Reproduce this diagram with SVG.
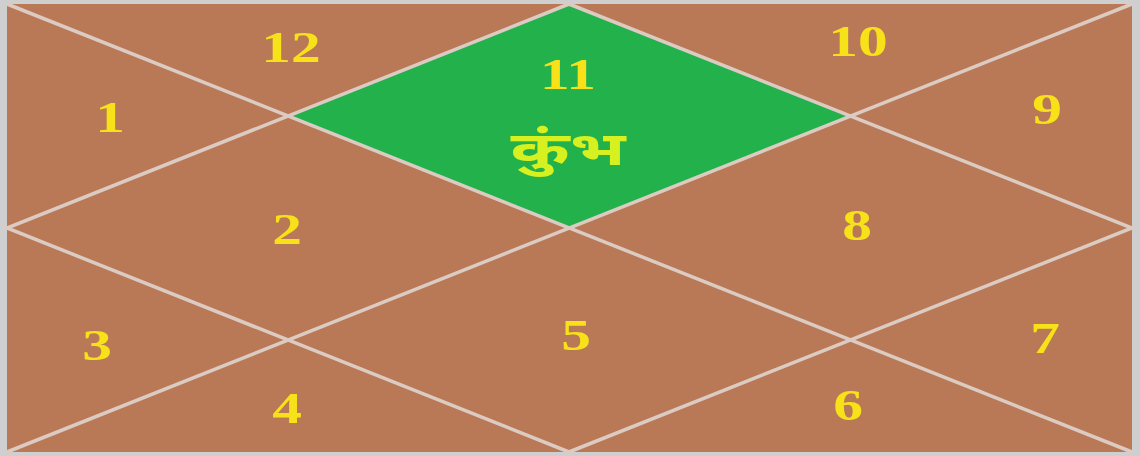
<svg xmlns="http://www.w3.org/2000/svg" width="1140" height="456" viewBox="0 0 1140 456">
<style>
.num{font-family:"Liberation Serif","Times New Roman",serif;font-weight:bold;font-size:44px;fill:#f7e21a;text-anchor:middle}
.ln{stroke:#dccbc2;stroke-width:3.5;fill:none}
.dev{font-family:"Noto Sans Devanagari","Noto Sans","Liberation Sans",sans-serif;font-weight:bold;font-size:46px;fill:#d6f020;text-anchor:middle}
</style>
<rect x="0" y="0" width="1140" height="456" fill="#cfcfcf"/>
<rect x="7" y="4" width="1125" height="448" fill="#b97856"/>
<g id="house11">
<polygon points="569,4 288,116 569,228 850,116" fill="#23b14c"/>
</g>
<g id="connectors">
<line class="ln" x1="7" y1="4" x2="1132" y2="452"/>
<line class="ln" x1="1132" y1="4" x2="7" y2="452"/>
<polygon class="ln" points="569,4 1132,228 569,452 7,228"/>
</g>
<g id="h12"><text class="num" transform="translate(291 62) scale(1.35 1)">12</text></g>
<g id="h1"><text class="num" transform="translate(110 132) scale(1.35 1)">1</text></g>
<g id="h11t"><text class="num" transform="translate(568 89) scale(1.35 1)">11</text>
<text class="dev" transform="translate(568 165) scale(1.55 1)">कुंभ</text></g>
<g id="h10"><text class="num" transform="translate(858 56) scale(1.35 1)">10</text></g>
<g id="h9"><text class="num" transform="translate(1047 124) scale(1.35 1)">9</text></g>
<g id="h2"><text class="num" transform="translate(287 244) scale(1.35 1)">2</text></g>
<g id="h8"><text class="num" transform="translate(857 240) scale(1.35 1)">8</text></g>
<g id="h3"><text class="num" transform="translate(97 360) scale(1.35 1)">3</text></g>
<g id="h5"><text class="num" transform="translate(576 350) scale(1.35 1)">5</text></g>
<g id="h7"><text class="num" transform="translate(1045 353) scale(1.35 1)">7</text></g>
<g id="h4"><text class="num" transform="translate(287 423) scale(1.35 1)">4</text></g>
<g id="h6"><text class="num" transform="translate(848 420) scale(1.35 1)">6</text></g>
</svg>
